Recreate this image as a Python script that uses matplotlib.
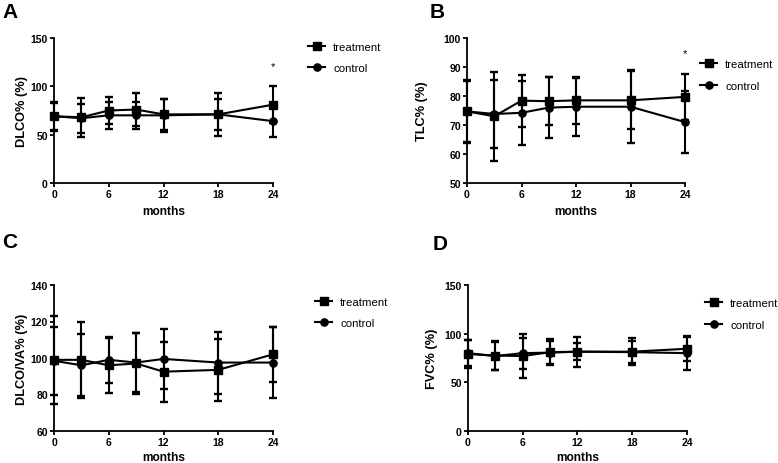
import matplotlib
matplotlib.use("Agg")
import matplotlib.pyplot as plt
from matplotlib.lines import Line2D

plt.rcParams['font.family'] = ['Liberation Sans', 'DejaVu Sans']

months = [0, 3, 6, 9, 12, 18, 24]
xticks = [0, 6, 12, 18, 24]

# Panel A: DLCO%
dlco_treat = [69, 68, 75, 76, 71, 71, 81]
dlco_treat_err = [15, 20, 14, 17, 16, 16, 19]
dlco_ctrl = [69, 67, 70, 70, 70, 71, 64]
dlco_ctrl_err = [14, 15, 14, 14, 17, 22, 16]

# Panel B: TLC%
tlc_treat = [74.7, 73.0, 78.4, 78.2, 78.5, 78.5, 79.7]
tlc_treat_err = [10.4, 15.4, 9.0, 8.3, 8.0, 10.0, 8.0]
tlc_ctrl = [74.7, 73.8, 74.2, 76.0, 76.3, 76.3, 71.0]
tlc_ctrl_err = [10.9, 11.7, 11.0, 10.5, 10.0, 12.5, 10.7]

# Panel C: DLCO/VA%
dlcova_treat = [99, 99, 96, 97, 92.5, 93.5, 102]
dlcova_treat_err = [24, 21, 15, 16.5, 16.5, 17, 15]
dlcova_ctrl = [98.5, 96, 99, 97.5, 99.5, 97.5, 97.5]
dlcova_ctrl_err = [18.5, 17, 12.5, 16, 16.5, 17, 19.5]

# Panel D: FVC%
fvc_treat = [79, 77.5, 77, 81, 81.5, 81.5, 84.5]
fvc_treat_err = [14, 14.5, 23, 13.5, 15.5, 14, 12.5]
fvc_ctrl = [80, 77, 80, 80.5, 81.5, 81, 80]
fvc_ctrl_err = [13, 14, 16, 12, 8.5, 11, 17.5]

panels = [
    dict(letter='A', ylabel='DLCO% (%)', yticks=[0, 50, 100, 150],
         t=dlco_treat, te=dlco_treat_err, c=dlco_ctrl, ce=dlco_ctrl_err,
         star=121, rect=[54, 39, 273, 184], letter_xy=(2, 3),
         leg=(308, 48, 21), ylab_x=-0.118, xlab_y=-0.15),
    dict(letter='B', ylabel='TLC% (%)', yticks=[50, 60, 70, 80, 90, 100],
         t=tlc_treat, te=tlc_treat_err, c=tlc_ctrl, ce=tlc_ctrl_err,
         star=94.9, rect=[467, 39, 685, 184], letter_xy=(430, 3),
         leg=(700, 66, 20), ylab_x=-0.18, xlab_y=-0.15),
    dict(letter='C', ylabel='DLCO/VA% (%)', yticks=[60, 80, 100, 120, 140],
         t=dlcova_treat, te=dlcova_treat_err, c=dlcova_ctrl, ce=dlcova_ctrl_err,
         star=None, rect=[54, 286, 273, 432], letter_xy=(2, 233),
         leg=(315, 302, 23), ylab_x=-0.12, xlab_y=-0.135),
    dict(letter='D', ylabel='FVC% (%)', yticks=[0, 50, 100, 150],
         t=fvc_treat, te=fvc_treat_err, c=fvc_ctrl, ce=fvc_ctrl_err,
         star=None, rect=[468, 286, 687, 432], letter_xy=(433, 235),
         leg=(705, 304, 22), ylab_x=-0.135, xlab_y=-0.135),
]

W, H = 778, 464
fig = plt.figure(figsize=(W / 100, H / 100), dpi=100)

for p in panels:
    l, t, r, b = p['rect']
    ax = fig.add_axes([l / W, (H - b) / H, (r - l) / W, (b - t) / H])
    common = dict(color='black', lw=1.5, elinewidth=1.5, capsize=3,
                  capthick=1.7, markersize=5.2, clip_on=False)
    e1 = ax.errorbar(months, p['t'], yerr=p['te'], marker='s', **common)
    e2 = ax.errorbar(months, p['c'], yerr=p['ce'], marker='o', **common)
    for eb in (e1, e2):
        for art in list(eb.lines[1]) + list(eb.lines[2]):
            art.set_clip_on(False)
    ax.set_xlim(0, 24)
    ax.set_ylim(p['yticks'][0], p['yticks'][-1])
    ax.set_xticks(xticks)
    ax.set_yticks(p['yticks'])
    for s in ('top', 'right'):
        ax.spines[s].set_visible(False)
    for s in ('left', 'bottom'):
        ax.spines[s].set_linewidth(1.3)
    ax.tick_params(axis='both', length=3, width=1.3, pad=1.5,
                   labelsize=7.5)
    for lab in ax.get_xticklabels() + ax.get_yticklabels():
        lab.set_fontweight('bold')
    ax.set_xlabel('months', fontsize=8.6, fontweight='bold')
    ax.set_ylabel(p['ylabel'], fontsize=9.2, fontweight='bold')
    ax.xaxis.set_label_coords(0.5, p['xlab_y'])
    ax.yaxis.set_label_coords(p['ylab_x'], 0.5)
    if p['star'] is not None:
        ax.text(24, p['star'], '*', ha='center', va='center', fontsize=8,
                clip_on=False)
    fig.text(p['letter_xy'][0] / W, 1 - p['letter_xy'][1] / H, p['letter'],
             fontsize=15, fontweight='bold', ha='left', va='top')
    hx, hy, dy = p['leg']
    handles = [Line2D([], [], color='black', lw=1.5, marker='s', markersize=5.2),
               Line2D([], [], color='black', lw=1.5, marker='o', markersize=5.2)]
    ax.legend(handles, ['treatment', 'control'], frameon=False,
              loc='center left', fontsize=8.2, handlelength=1.5,
              handletextpad=0.7, labelspacing=1.05, borderpad=0,
              borderaxespad=0,
              bbox_to_anchor=(hx / W, 1 - (hy + dy / 2) / H),
              bbox_transform=fig.transFigure)

fig.savefig('out.png', dpi=100)
